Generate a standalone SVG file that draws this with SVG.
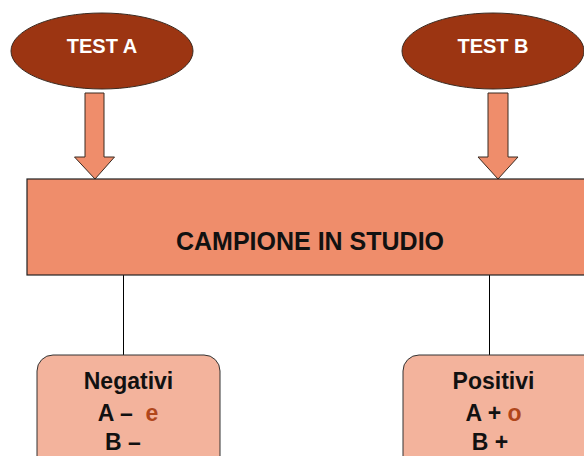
<svg xmlns="http://www.w3.org/2000/svg" width="584" height="456" viewBox="0 0 584 456">
<style>
.ell{fill:#9C3512;stroke:#3a2a20;stroke-width:1}
.arr{fill:#EF8D6B;stroke:#3a2a20;stroke-width:1}
.main{fill:#EF8D6B;stroke:#222;stroke-width:1.2}
.box{fill:#F3B39C;stroke:#333;stroke-width:1}
.conn{stroke:#000;stroke-width:1;fill:none}
text{font-family:"Liberation Sans",Arial,sans-serif;font-weight:bold;text-anchor:middle}
.w{fill:#fff;font-size:20px}
.k{fill:#111}
.b{font-size:23px}
.hl{fill:#B0461B}
</style>
<g id="testA">
<ellipse class="ell" cx="102" cy="51" rx="91" ry="38"/>
<text class="w" x="102" y="53">TEST A</text>
</g>
<g id="testB">
<ellipse class="ell" cx="493" cy="51" rx="91" ry="38"/>
<text class="w" x="493" y="53">TEST B</text>
</g>
<g id="connectors">
<polygon class="arr" points="85,93 104,93 104,157 114.5,157 95,179 74.5,157 85,157"/>
<polygon class="arr" points="488,93 508,93 508,157 518,157 498,179 478,157 488,157"/>
<line class="conn" x1="123.5" y1="275" x2="123.5" y2="355"/>
<line class="conn" x1="489.5" y1="275" x2="489.5" y2="355"/>
</g>
<g id="campione">
<rect class="main" x="27" y="179" width="570" height="96"/>
<text class="k" x="310" y="250" style="font-size:25px">CAMPIONE IN STUDIO</text>
</g>
<g id="negativi">
<rect class="box" x="37" y="355" width="183" height="120" rx="16"/>
<text class="k b" x="128.5" y="389">Negativi</text>
<text class="k b" x="128" y="421">A –&#160; <tspan class="hl">e</tspan></text>
<text class="k b" x="123" y="450">B –</text>
</g>
<g id="positivi">
<rect class="box" x="403" y="355" width="200" height="120" rx="16"/>
<text class="k b" x="493.5" y="389">Positivi</text>
<text class="k b" x="493.5" y="421">A + <tspan class="hl">o</tspan></text>
<text class="k b" x="490" y="450">B +</text>
</g>
</svg>
